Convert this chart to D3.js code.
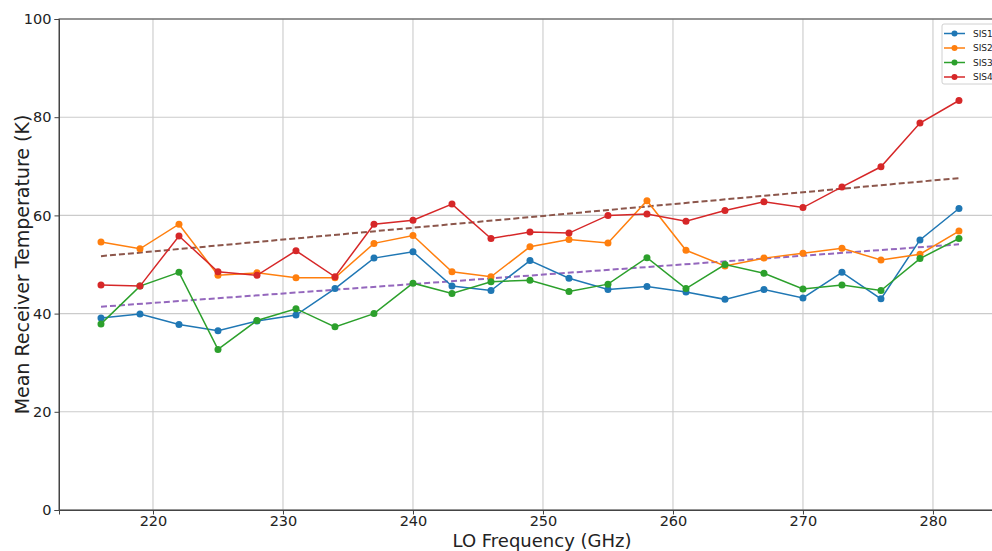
<!DOCTYPE html>
<html>
<head>
<meta charset="utf-8">
<script src="https://cdn.jsdelivr.net/npm/d3@7"></script>
<style>
  body { margin: 0; background: #fff; overflow: hidden; }
  svg { display: block; font-family: "DejaVu Sans", sans-serif; }
</style>
</head>
<body>
<div id="chart"></div>
<script>
// LO frequencies (GHz)
var freqs = [216, 219, 222, 225, 228, 231, 234, 237, 240, 243, 246, 249,
             252, 255, 258, 261, 264, 267, 270, 273, 276, 279, 282];

// mean receiver temperature (K) per mixer
var sis1 = [39.1, 39.9, 37.8, 36.5, 38.5, 39.7, 45.1, 51.3, 52.6, 45.6, 44.7, 50.8,
            47.2, 44.9, 45.5, 44.4, 42.9, 44.9, 43.2, 48.4, 43.0, 55.0, 61.4];
var sis2 = [54.6, 53.2, 58.2, 47.8, 48.3, 47.3, 47.3, 54.3, 55.9, 48.5, 47.5, 53.6,
            55.1, 54.4, 63.0, 52.9, 49.7, 51.3, 52.3, 53.3, 50.9, 52.1, 56.8];
var sis3 = [37.9, 45.6, 48.4, 32.7, 38.6, 41.0, 37.3, 40.0, 46.2, 44.1, 46.5, 46.8,
            44.5, 46.0, 51.4, 45.1, 50.0, 48.2, 45.0, 45.8, 44.7, 51.2, 55.3];
var sis4 = [45.8, 45.6, 55.8, 48.5, 47.8, 52.8, 47.5, 58.2, 59.0, 62.3, 55.3, 56.6,
            56.4, 60.0, 60.3, 58.8, 61.0, 62.8, 61.6, 65.8, 69.9, 78.8, 83.4];

var seriesNames = ["SIS1", "SIS2", "SIS3", "SIS4"];
var seriesColors = ["#1f77b4", "#ff7f0e", "#2ca02c", "#d62728"];

// dashed trend lines: [start, end] over the frequency range
var trendFreqs = [216, 282];
var trendUpper = [51.7, 67.6];
var trendLower = [41.4, 54.1];

var xTicks = [220, 230, 240, 250, 260, 270, 280];
var yTicks = [0, 20, 40, 60, 80, 100];

var width = 992, height = 551;
var margin = {top: 19, left: 59, right: -33, bottom: 41};
var plotR = width - margin.right, plotB = height - margin.bottom;

var svg = d3.select("#chart").append("svg")
    .attr("width", width)
    .attr("height", height);

var x = d3.scaleLinear().domain([212.77, 287.08]).range([margin.left, plotR]);
var y = d3.scaleLinear().domain([0, 100]).range([plotB, margin.top]);

// grid
var grid = svg.append("g").attr("class", "grid");
grid.selectAll("line.gx").data(xTicks).enter().append("line")
    .attr("x1", function(d) { return x(d); })
    .attr("x2", function(d) { return x(d); })
    .attr("y1", margin.top).attr("y2", plotB)
    .attr("stroke", "#cbcbcb").attr("stroke-width", 1.1);
grid.selectAll("line.gy").data(yTicks).enter().append("line")
    .attr("x1", margin.left).attr("x2", plotR)
    .attr("y1", function(d) { return y(d); })
    .attr("y2", function(d) { return y(d); })
    .attr("stroke", "#cbcbcb").attr("stroke-width", 1.1);

// trend lines
var trendLine = d3.line()
    .x(function(d, i) { return x(trendFreqs[i]); })
    .y(function(d) { return y(d); });
svg.append("path").datum(trendUpper)
    .attr("d", trendLine).attr("fill", "none")
    .attr("stroke", "#8c564b").attr("stroke-width", 2)
    .attr("stroke-dasharray", "6,3");
svg.append("path").datum(trendLower)
    .attr("d", trendLine).attr("fill", "none")
    .attr("stroke", "#9467bd").attr("stroke-width", 2)
    .attr("stroke-dasharray", "6,3");

// series
var allSeries = [sis1, sis2, sis3, sis4];
var line = d3.line()
    .x(function(d, i) { return x(freqs[i]); })
    .y(function(d) { return y(d); });

allSeries.forEach(function(vals, k) {
  var g = svg.append("g");
  g.append("path").datum(vals)
    .attr("d", line).attr("fill", "none")
    .attr("stroke", seriesColors[k]).attr("stroke-width", 1.5);
  g.selectAll("circle").data(vals).enter().append("circle")
    .attr("cx", function(d, i) { return x(freqs[i]); })
    .attr("cy", function(d) { return y(d); })
    .attr("r", 3.5)
    .attr("fill", seriesColors[k]);
});

// axes
var xAxis = svg.append("g")
    .attr("transform", "translate(0," + plotB + ")")
    .call(d3.axisBottom(x).tickValues(xTicks).tickSize(4.5).tickPadding(1));
var yAxis = svg.append("g")
    .attr("transform", "translate(" + margin.left + ",0)")
    .call(d3.axisLeft(y).tickValues(yTicks).tickSize(4.5).tickPadding(3));
[xAxis, yAxis].forEach(function(a) {
  a.selectAll("text").attr("font-size", 14.5).attr("fill", "#222")
    .attr("font-family", "DejaVu Sans");
  a.selectAll("line").attr("stroke", "#444");
  a.select(".domain").attr("stroke", "#444");
});

// frame (top and right spines)
svg.append("rect")
    .attr("x", margin.left).attr("y", margin.top)
    .attr("width", plotR - margin.left).attr("height", plotB - margin.top)
    .attr("fill", "none").attr("stroke", "#444").attr("stroke-width", 1);

// axis labels
svg.append("text")
    .attr("x", (margin.left + plotR) / 2).attr("y", 546.5)
    .attr("text-anchor", "middle").attr("font-size", 18).attr("fill", "#222")
    .text("LO Frequency (GHz)");
svg.append("text")
    .attr("transform", "translate(29," + (margin.top + plotB) / 2 + ") rotate(-90)")
    .attr("text-anchor", "middle").attr("font-size", 19).attr("fill", "#222")
    .text("Mean Receiver Temperature (K)");

// legend
var legend = svg.append("g").attr("transform", "translate(942,24)");
legend.append("rect")
    .attr("width", 62).attr("height", 60).attr("rx", 2)
    .attr("fill", "#fff").attr("fill-opacity", 0.85)
    .attr("stroke", "#d0d0d0");
seriesNames.forEach(function(name, i) {
  var ly = 9.5 + i * 14.5;
  legend.append("line")
    .attr("x1", 2).attr("x2", 23).attr("y1", ly).attr("y2", ly)
    .attr("stroke", seriesColors[i]).attr("stroke-width", 1.5);
  legend.append("circle")
    .attr("cx", 12.5).attr("cy", ly).attr("r", 3)
    .attr("fill", seriesColors[i]);
  legend.append("text")
    .attr("x", 31).attr("y", ly + 3.2)
    .attr("font-size", 9).attr("fill", "#222")
    .text(name);
});
</script>
</body>
</html>
